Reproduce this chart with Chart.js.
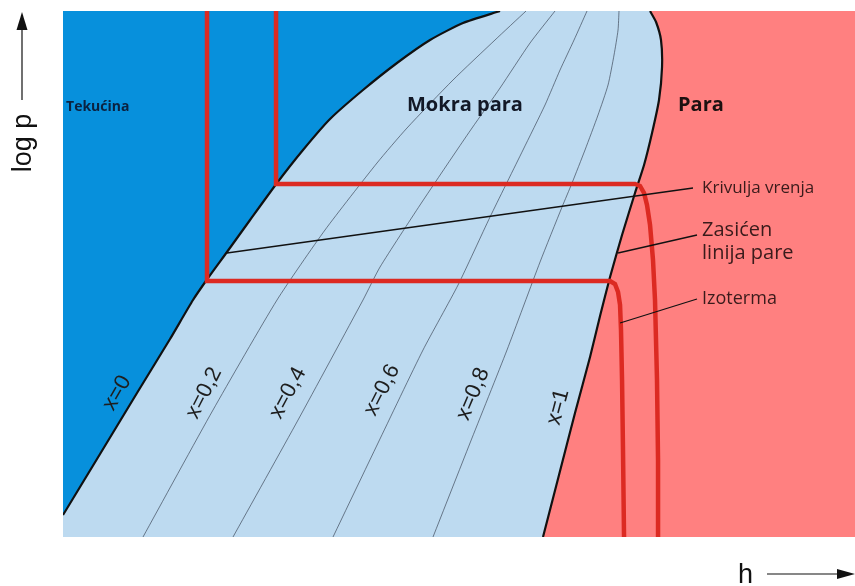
<!DOCTYPE html>
<html>
<head>
<meta charset="utf-8">
<script src="https://cdn.jsdelivr.net/npm/chart.js@4.4.1/dist/chart.umd.min.js"></script>
<style>
  html, body { margin: 0; padding: 0; background: #fff; }
  #wrap { width: 855px; height: 586px; }
</style>
</head>
<body>
<div id="wrap"><canvas id="phChart" width="855" height="586"></canvas></div>
<script>
// log p - h diagram, relative units (h: 0..99, log p: 0..10.52)
const hMax = 99;
const logpMax = 10.52;

// boiling curve (x = 0), bottom to top
const liquidLine = [
  [0, 0.44], [4.63, 1.66], [9.25, 2.88], [13.38, 3.96], [16.25, 4.74], [18.13, 5.18],
  [20.5, 5.70], [23.38, 6.34], [26.75, 7.08], [30.0, 7.74], [33.38, 8.36], [37.5, 8.94],
  [41.75, 9.48], [45.88, 9.94], [50.0, 10.28], [54.63, 10.52]
];

// saturated vapour line (x = 1), bottom to top
const vapourLine = [
  [60.0, 0], [62.0, 1.24], [64.0, 2.48], [65.88, 3.60], [67.13, 4.42], [68.38, 5.20],
  [69.88, 6.04], [71.5, 6.88], [72.63, 7.44], [73.63, 8.08], [74.5, 8.74], [74.88, 9.40],
  [74.75, 9.94], [74.13, 10.30], [73.38, 10.52]
];

// lines of constant vapour quality inside the dome
const quality02 = [
  [10.0, 0], [18.75, 2.54], [26.75, 4.74], [32.75, 6.14], [39.25, 7.48], [43.0, 8.18],
  [48.75, 9.14], [54.0, 9.94], [57.88, 10.52]
];
const quality04 = [
  [21.25, 0], [29.38, 2.34], [37.5, 4.74], [39.63, 5.40], [44.63, 6.64], [49.25, 7.74],
  [51.13, 8.18], [54.63, 8.98], [58.38, 9.88], [61.5, 10.52]
];
const quality06 = [
  [33.75, 0], [39.38, 1.88], [45.0, 3.74], [49.38, 5.04], [53.38, 6.40], [57.5, 7.74],
  [60.25, 8.64], [62.13, 9.34], [63.88, 9.94], [65.5, 10.52]
];
const quality08 = [
  [46.25, 0], [50.88, 1.88], [55.5, 3.74], [59.63, 5.50], [62.38, 6.60], [63.63, 7.08],
  [65.25, 7.74], [66.88, 8.44], [68.13, 9.04], [68.88, 9.64], [69.38, 10.14], [69.5, 10.52]
];

// two isotherms
const isothermLow = [
  [18.0, 10.52], [18.0, 5.12], [68.38, 5.12], [69.0, 5.06], [69.38, 4.90], [69.63, 4.64],
  [69.75, 4.14], [69.88, 3.14], [70.0, 1.74], [70.13, 0]
];
const isothermHigh = [
  [26.63, 10.52], [26.63, 7.06], [71.5, 7.06], [72.13, 7.02], [72.63, 6.88], [73.0, 6.64],
  [73.38, 6.24], [73.75, 5.54], [74.0, 4.74], [74.25, 3.14], [74.38, 1.54], [74.38, 0]
];

// pointer lines for the callouts
const pointerBoiling = [[20.5, 5.68], [78.75, 6.98]];
const pointerVapour = [[69.38, 5.68], [79.25, 6.04]];
const pointerIsotherm = [[69.63, 4.28], [79.25, 4.76]];

const qualityNames = ['x=0', 'x=0,2', 'x=0,4', 'x=0,6', 'x=0,8', 'x=1'];
const regionNames = ['Tekućina', 'Mokra para', 'Para'];
const calloutNames = ['Krivulja vrenja', 'Zasićen', 'linija pare', 'Izoterma'];

const pts = arr => arr.map(([x, y]) => ({ x, y }));

// closed areas built from the two saturation curves
const liquidArea = pts([[0, logpMax], ...liquidLine]);
const domeArea = pts([[0, 0], ...liquidLine, ...vapourLine.slice().reverse()]);
const vapourArea = pts([...vapourLine, [hMax, logpMax], [hMax, 0]]);

function area(data, color, order) {
  return {
    data, fill: 'shape', backgroundColor: color, borderColor: 'transparent',
    borderWidth: 0, tension: 0, pointRadius: 0, order, clip: 0
  };
}
function curve(data, color, width, extra) {
  return Object.assign({
    data, fill: false, borderColor: color, borderWidth: width, tension: 0.2,
    pointRadius: 0, order: 5, clip: 0
  }, extra || {});
}

const textLayer = {
  id: 'textLayer',
  afterDatasetsDraw(chart) {
    const { ctx, scales: { x, y } } = chart;
    ctx.save();
    ctx.textAlign = 'left';
    ctx.textBaseline = 'alphabetic';

    const regions = [
      { h: 0.38, p: 8.52, font: 'bold 14px "Open Sans"', color: '#0b2240' },
      { h: 43.0, p: 8.52, font: 'bold 20px "Open Sans"', color: '#121826' },
      { h: 76.88, p: 8.52, font: 'bold 20px "Open Sans"', color: '#1c1010' }
    ];
    regionNames.forEach((t, i) => {
      const r = regions[i];
      ctx.font = r.font;
      ctx.fillStyle = r.color;
      ctx.fillText(t, x.getPixelForValue(r.h), y.getPixelForValue(r.p));
    });

    const callouts = [
      { h: 79.88, p: 6.88, size: 17 },
      { h: 79.88, p: 6.02, size: 20 },
      { h: 79.88, p: 5.56, size: 20 },
      { h: 79.88, p: 4.66, size: 18 }
    ];
    ctx.fillStyle = '#3a1b1b';
    calloutNames.forEach((t, i) => {
      const c = callouts[i];
      ctx.font = c.size + 'px "Open Sans"';
      ctx.fillText(t, x.getPixelForValue(c.h), y.getPixelForValue(c.p));
    });

    // quality labels run along their lines
    const qpos = [
      { h: 6.75, p: 2.88, a: -60 },
      { h: 17.63, p: 2.88, a: -63 },
      { h: 28.13, p: 2.88, a: -62 },
      { h: 39.88, p: 2.94, a: -63 },
      { h: 51.25, p: 2.86, a: -67 },
      { h: 61.88, p: 2.60, a: -75 }
    ];
    ctx.font = '22px "Liberation Sans", Arial, sans-serif';
    ctx.fillStyle = '#1e1e1e';
    ctx.textAlign = 'center';
    ctx.textBaseline = 'middle';
    qualityNames.forEach((t, i) => {
      const q = qpos[i];
      ctx.save();
      ctx.translate(x.getPixelForValue(q.h), y.getPixelForValue(q.p));
      ctx.rotate(q.a * Math.PI / 180);
      ctx.fillText(t, 0, 0);
      ctx.restore();
    });
    ctx.restore();
  },
  afterDraw(chart) {
    const { ctx, chartArea: a } = chart;
    ctx.save();
    ctx.strokeStyle = '#111';
    ctx.fillStyle = '#111';
    ctx.lineWidth = 1.2;

    // vertical axis: arrow and title
    const ax = a.left - 41;
    ctx.beginPath();
    ctx.moveTo(ax, a.top + 89);
    ctx.lineTo(ax, a.top + 18);
    ctx.stroke();
    ctx.beginPath();
    ctx.moveTo(ax, a.top + 1);
    ctx.lineTo(ax - 5.5, a.top + 19);
    ctx.lineTo(ax + 5.5, a.top + 19);
    ctx.closePath();
    ctx.fill();

    ctx.font = '27px "Liberation Sans", Arial, sans-serif';
    ctx.save();
    ctx.translate(a.left - 32, a.top + 132);
    ctx.rotate(-Math.PI / 2);
    ctx.textAlign = 'center';
    ctx.textBaseline = 'alphabetic';
    ctx.fillText('log p', 0, 0);
    ctx.restore();

    // horizontal axis: title and arrow
    const ay = a.bottom + 37;
    ctx.textAlign = 'left';
    ctx.textBaseline = 'alphabetic';
    ctx.fillText('h', a.right - 117, a.bottom + 46);
    ctx.beginPath();
    ctx.moveTo(a.right - 88, ay);
    ctx.lineTo(a.right - 17, ay);
    ctx.stroke();
    ctx.beginPath();
    ctx.moveTo(a.right, ay);
    ctx.lineTo(a.right - 18, ay - 5);
    ctx.lineTo(a.right - 18, ay + 5);
    ctx.closePath();
    ctx.fill();
    ctx.restore();
  }
};

const ctx = document.getElementById('phChart').getContext('2d');

new Chart(ctx, {
  type: 'scatter',
  data: {
    datasets: [
      area(vapourArea, '#ff8080', 9),
      area(domeArea, '#bddaf0', 8),
      area(liquidArea, '#0790dc', 7),
      curve(pts(quality02), 'rgba(50,60,75,0.8)', 0.8),
      curve(pts(quality04), 'rgba(50,60,75,0.8)', 0.8),
      curve(pts(quality06), 'rgba(50,60,75,0.8)', 0.8),
      curve(pts(quality08), 'rgba(50,60,75,0.8)', 0.8),
      curve(pts(liquidLine), '#111', 2.2, { order: 4 }),
      curve(pts(vapourLine), '#111', 2.2, { order: 4 }),
      curve(pts(isothermLow), '#dc2a22', 4.5, { tension: 0, order: 3 }),
      curve(pts(isothermHigh), '#dc2a22', 4.5, { tension: 0, order: 3 }),
      curve(pts(pointerBoiling), '#111', 1.3, { tension: 0, order: 2 }),
      curve(pts(pointerVapour), '#111', 1.3, { tension: 0, order: 2 }),
      curve(pts(pointerIsotherm), '#111', 1.3, { tension: 0, order: 2 })
    ]
  },
  options: {
    responsive: false,
    animation: false,
    events: [],
    showLine: true,
    layout: { padding: { left: 63, right: 0, top: 11, bottom: 49 } },
    plugins: {
      legend: { display: false },
      tooltip: { enabled: false }
    },
    scales: {
      x: { type: 'linear', min: 0, max: hMax, display: false },
      y: { type: 'linear', min: 0, max: logpMax, display: false }
    }
  },
  plugins: [textLayer]
});
</script>
</body>
</html>
